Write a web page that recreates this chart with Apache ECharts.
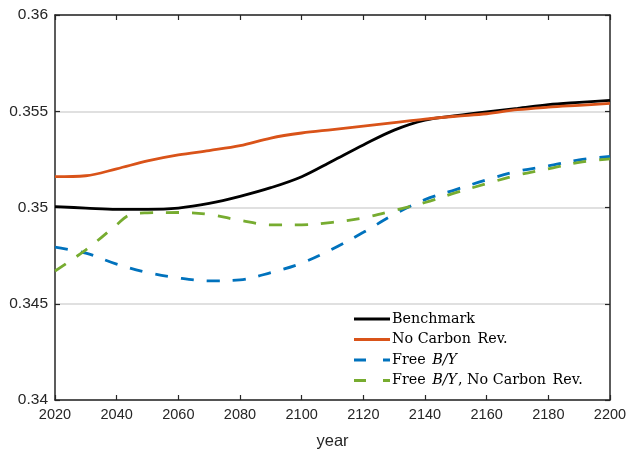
<!DOCTYPE html>
<html>
<head>
<meta charset="utf-8">
<script src="https://cdn.jsdelivr.net/npm/echarts@6/dist/echarts.min.js"></script>
<style>
  html, body { margin: 0; padding: 0; background: #fff; }
  #chart { width: 630px; height: 455px; }
</style>
</head>
<body>
<div id="chart"></div>
<script>
// Simulation years (x axis)
const years = [2020, 2030, 2040, 2050, 2060, 2070, 2080, 2090, 2100, 2110,
               2120, 2130, 2140, 2150, 2160, 2170, 2180, 2190, 2200];

// Series values over the years above
const benchmark = [0.35005, 0.34997, 0.34990, 0.34990, 0.34997, 0.35021, 0.35058, 0.35103, 0.35160, 0.35242,
                   0.35325, 0.35402, 0.35454, 0.35477, 0.35497, 0.35515, 0.35534, 0.35546, 0.35557];
const noCarbonRev = [0.35160, 0.35165, 0.35201, 0.35242, 0.35273, 0.35296, 0.35321, 0.35361, 0.35387, 0.35405,
                     0.35423, 0.35441, 0.35459, 0.35474, 0.35487, 0.35508, 0.35521, 0.35531, 0.35541];
const freeBY = [0.34794, 0.34763, 0.34706, 0.34662, 0.34634, 0.34619, 0.34624, 0.34662, 0.34711, 0.34784,
                0.34871, 0.34964, 0.35041, 0.35093, 0.35144, 0.35188, 0.35216, 0.35247, 0.35265];

// The last scenario has an extra point where its climb levels off
const yearsFreeBYNoRev = [2020, 2030, 2040, 2044, 2050, 2060, 2070, 2080, 2090, 2100, 2110,
                          2120, 2130, 2140, 2150, 2160, 2170, 2180, 2190, 2200];
const freeBYNoRev = [0.34670, 0.34780, 0.34910, 0.34960, 0.34972, 0.34974, 0.34964, 0.34933, 0.34910, 0.34910, 0.34923,
                     0.34946, 0.34985, 0.35026, 0.35077, 0.35124, 0.35168, 0.35201, 0.35235, 0.35253];

// Axis ticks
const xTicks = [2020, 2040, 2060, 2080, 2100, 2120, 2140, 2160, 2180, 2200];
const yTicks = [0.34, 0.345, 0.35, 0.355, 0.36];

const seriesNames = ['Benchmark', 'No Carbon Rev.', 'Free B/Y', 'Free B/Y, No Carbon Rev.'];

const pairs = (xs, ys) => xs.map((x, i) => [x, ys[i]]);

const axisColor = '#262626';
const sansFont = '"Liberation Sans", Arial, Helvetica, sans-serif';
const serifFont = '"DejaVu Serif", "Liberation Serif", serif';

// Legend samples: a full bar for solid lines, "long dash - gap - short dash" for dashed ones
const solidIcon = 'path://M0,0H36V3H0Z';
const dashedIcon = 'path://M0,0H12V3H0Z M29,0H36V3H29Z';

const chart = echarts.init(document.getElementById('chart'), null, { renderer: 'canvas' });

const baseX = {
  type: 'value',
  min: xTicks[0],
  max: xTicks[xTicks.length - 1],
  interval: xTicks[1] - xTicks[0],
  axisLine: { show: true, onZero: false, lineStyle: { color: axisColor, width: 1.5 } },
  axisTick: { show: true, inside: true, length: 5, lineStyle: { color: axisColor, width: 1.2 } },
  splitLine: { show: false }
};
const baseY = {
  type: 'value',
  min: yTicks[0],
  max: yTicks[yTicks.length - 1],
  interval: 0.005,
  axisLine: { show: true, onZero: false, lineStyle: { color: axisColor, width: 1.5 } },
  axisTick: { show: true, inside: true, length: 5, lineStyle: { color: axisColor, width: 1.2 } }
};

const lineSeries = (name, data, color, dashed) => ({
  name: name,
  type: 'line',
  data: data,
  showSymbol: false,
  symbol: 'none',
  smooth: 0.35,
  xAxisIndex: 0,
  yAxisIndex: 0,
  lineStyle: { color: color, width: 2.8, type: dashed ? [13, 13] : 'solid', cap: 'butt' },
  itemStyle: { color: color },
  z: 3
});

chart.setOption({
  animation: false,
  backgroundColor: '#ffffff',
  grid: { left: 55, right: 20, top: 15, bottom: 52, containLabel: false },
  xAxis: [
    Object.assign({}, baseX, {
      position: 'bottom',
      name: 'year',
      nameLocation: 'middle',
      nameGap: 33,
      nameTextStyle: { fontFamily: sansFont, fontSize: 16.5, color: axisColor },
      axisLabel: {
        fontFamily: sansFont, fontSize: 14.5, color: axisColor, margin: 7,
        formatter: v => String(Math.round(v))
      }
    }),
    Object.assign({}, baseX, { position: 'top', axisLabel: { show: false } })
  ],
  yAxis: [
    Object.assign({}, baseY, {
      position: 'left',
      splitLine: { show: true, lineStyle: { color: '#e0e0e0', width: 2 } },
      axisLabel: {
        fontFamily: sansFont, fontSize: 15.5, color: axisColor, margin: 7,
        formatter: v => String(parseFloat(v.toFixed(4)))
      }
    }),
    Object.assign({}, baseY, { position: 'right', splitLine: { show: false }, axisLabel: { show: false } })
  ],
  legend: {
    orient: 'vertical',
    left: 349,
    top: 308,
    width: 255,
    backgroundColor: '#ffffff',
    padding: [4, 8, 4, 5],
    itemWidth: 36,
    itemHeight: 3,
    itemGap: 6.5,
    data: [
      { name: seriesNames[0], icon: solidIcon },
      { name: seriesNames[1], icon: solidIcon },
      { name: seriesNames[2], icon: dashedIcon },
      { name: seriesNames[3], icon: dashedIcon }
    ],
    formatter: name => name.replace(/B\/Y/g, '{i|B/Y}').replace(/Rev\./g, '{w|Rev.}'),
    textStyle: {
      fontFamily: serifFont, fontSize: 14.3, lineHeight: 14, color: '#000', padding: [0, 0, 0, -3],
      rich: {
        i: { fontFamily: serifFont, fontStyle: 'italic', fontSize: 14.3, lineHeight: 14, color: '#000', padding: [0, 1, 0, 2] },
        w: { fontFamily: serifFont, fontSize: 14.3, lineHeight: 14, color: '#000', padding: [0, 0, 0, 2] }
      }
    }
  },
  series: [
    lineSeries(seriesNames[0], pairs(years, benchmark), '#000000', false),
    lineSeries(seriesNames[1], pairs(years, noCarbonRev), '#D95319', false),
    lineSeries(seriesNames[2], pairs(years, freeBY), '#0072BD', true),
    lineSeries(seriesNames[3], pairs(yearsFreeBYNoRev, freeBYNoRev), '#77AC30', true)
  ]
});
</script>
</body>
</html>
